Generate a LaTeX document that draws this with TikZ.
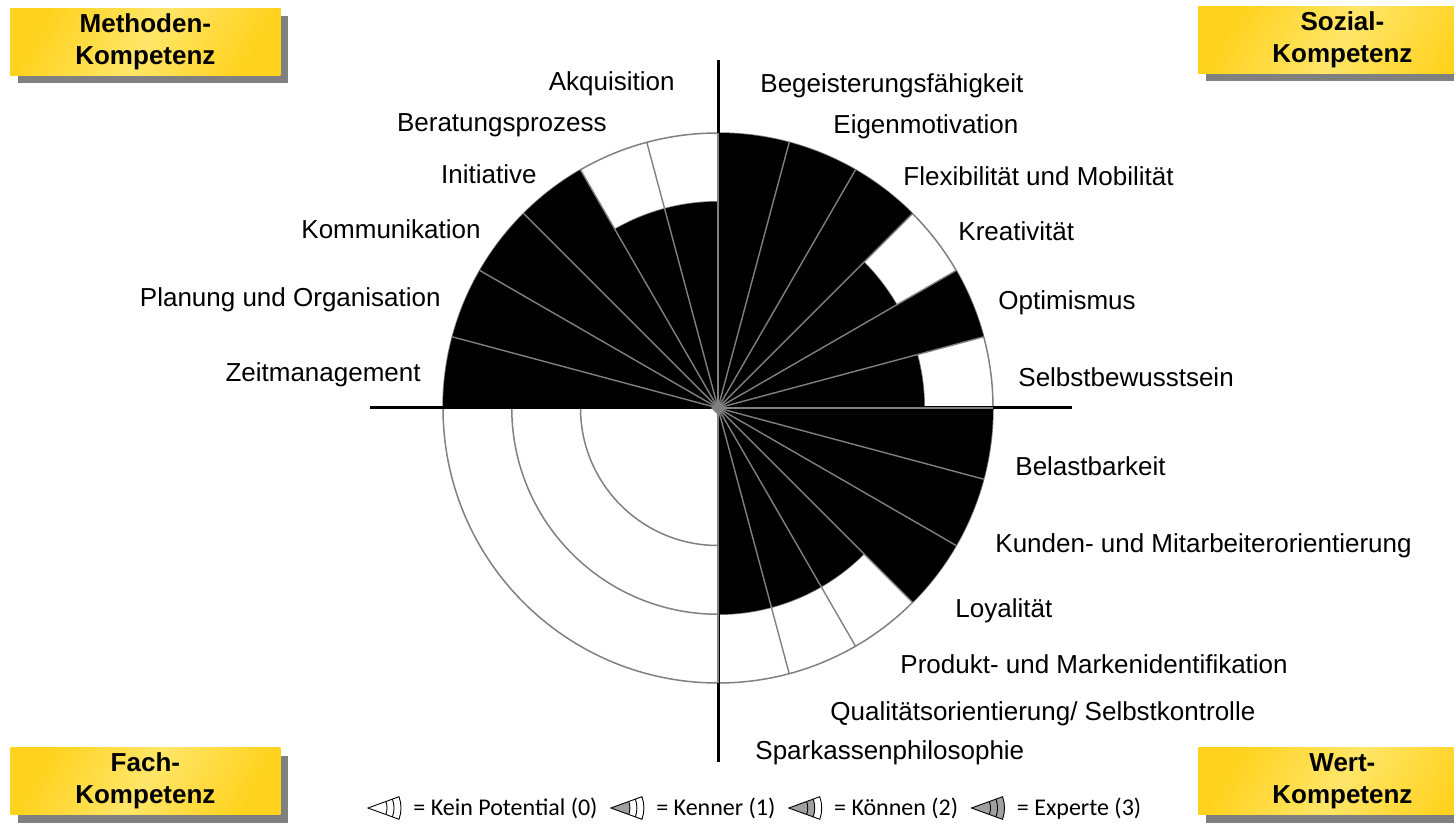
\documentclass[tikz,border=0pt]{standalone}
\usepackage{fontspec}
\setmainfont{Liberation Sans}
\newfontfamily\legfont{Carlito}
\usetikzlibrary{calc,shadows,positioning}
\definecolor{kgold}{RGB}{255,210,30}
\definecolor{klight}{RGB}{255,230,105}
\definecolor{spokegray}{RGB}{128,128,128}
\newcommand{\labfont}{\fontsize{13}{15}\selectfont}
\newcommand{\boxfont}{\bfseries\fontsize{13}{16}\selectfont}
\tikzset{levelicon/.pic={
	\ifdim #1pt>0pt
		\fill[spokegray!75] (0,0) -- (20:#1) arc[start angle=20,end angle=-20,radius=#1] -- cycle;
	\fi
	\draw[line width=0.45pt] (0,0) -- (20:33) arc[start angle=20,end angle=-20,radius=33] -- cycle;
	\draw[line width=0.45pt] (20:19) arc[start angle=20,end angle=-20,radius=19];
	\draw[line width=0.45pt] (20:26) arc[start angle=20,end angle=-20,radius=26];
}}
\begin{document}
\begin{tikzpicture}[x=0.5pt,y=0.5pt,
	ring/.style={spokegray,line width=0.75pt},
	spoke/.style={spokegray,line width=0.7pt},
	axis/.style={black,line width=1.5pt},
	lab/.style={font=\labfont,inner sep=0pt},
	kompbox/.style={font=\boxfont,align=center,inner sep=0pt,minimum width=135pt,minimum height=33.5pt,
		left color=kgold,right color=kgold,middle color=klight,shading angle=60,
		drop shadow={shadow xshift=4pt,shadow yshift=-4pt,fill=spokegray,opacity=1}},
	legtext/.style={font=\legfont\fontsize{12}{14}\selectfont,inner sep=0pt,anchor=base west}]
					\clip (0,0) rectangle (1454,825);
					\coordinate (M) at (718,417);
					%RINGS
					\foreach \r in {137.5,206.25,275}
						\draw[ring] (M) circle[radius=\r];
					%SECTORS (start angle / level)
					\foreach \a/\l in {165/3,150/3,135/3,120/3,105/2,90/2,75/3,60/3,45/3,30/2,15/3,0/2,-15/3,-30/3,-45/3,-60/2,-75/2,-90/2}
						\fill (M) -- ++(\a:{68.75*(\l+1)}) arc[start angle=\a,delta angle=15,radius={68.75*(\l+1)}] -- cycle;
					%AXES
					\coordinate (W) at ($(M)+(-348,0)$);
					\coordinate (E) at ($(M)+(354,0)$);
					\coordinate (N) at ($(M)+(0,348)$);
					\coordinate (S) at ($(M)+(0,-354)$);
					\draw[axis] (W) -- (E);
					\draw[axis] (N) -- (S);
					\foreach \a in {-90,-75,...,165}
						\draw[spoke] (M) -- ++(\a:275);
					\fill[spokegray] ($(M)+(-7,0)$) -- ++(7,7) -- ++(7,-7) -- ++(-7,-7) -- cycle;
					%LABELS
					\node[lab,anchor=base east] (akq) at (675,734) {Akquisition};
					\node[lab,anchor=base east] (ber) at (607,693) {Beratungsprozess};
					\node[lab,anchor=base east] (ini) at (537,641) {Initiative};
					\node[lab,anchor=base east] (kom) at (481,586) {Kommunikation};
					\node[lab,anchor=base east] (pla) at (441,518) {Planung und Organisation};
					\node[lab,anchor=base east] (zei) at (421,443) {Zeitmanagement};
					\node[lab,anchor=base west] (beg) at (760,732) {Begeisterungsfähigkeit};
					\node[lab,anchor=base west] (eig) at (833,691) {Eigenmotivation};
					\node[lab,anchor=base west] (fle) at (903,639) {Flexibilität und Mobilität};
					\node[lab,anchor=base west] (kre) at (958,584) {Kreativität};
					\node[lab,anchor=base west] (opt) at (998,515) {Optimismus};
					\node[lab,anchor=base west] (sel) at (1018,438) {Selbstbewusstsein};
					\node[lab,anchor=base west] (bel) at (1015,350) {Belastbarkeit};
					\node[lab,anchor=base west] (kun) at (995,273) {Kunden- und Mitarbeiterorientierung};
					\node[lab,anchor=base west] (loy) at (955,208) {Loyalität};
					\node[lab,anchor=base west] (pro) at (900,152) {Produkt- und Markenidentifikation};
					\node[lab,anchor=base west] (qua) at (830,105) {Qualitätsorientierung/ Selbstkontrolle};
					\node[lab,anchor=base west] (spa) at (755,66) {Sparkassenphilosophie};
					%COMPETENCE BOXES
					\node[kompbox,anchor=north west] (meth) at (10,817) {Methoden-\\Kompetenz};
					\node[kompbox,anchor=north west,minimum width=144pt] (soz) at (1198,819) {Sozial-\\Kompetenz};
					\node[kompbox,anchor=south west] (fach) at (10,10) {Fach-\\Kompetenz};
					\node[kompbox,anchor=south west,minimum width=144pt] (wert) at (1198,10) {Wert-\\Kompetenz};
					%LEGEND
					\coordinate (ic0) at (368,17);
					\pic at (ic0) {levelicon=0};
					\node[legtext] (lg0) at ($(ic0)+(45,-7)$) {= Kein Potential (0)};
					\coordinate (ic1) at ($(lg0.base east)+(13,7)$);
					\pic at (ic1) {levelicon=19};
					\node[legtext] (lg1) at ($(ic1)+(45,-7)$) {= Kenner (1)};
					\coordinate (ic2) at ($(lg1.base east)+(13,7)$);
					\pic at (ic2) {levelicon=26};
					\node[legtext] (lg2) at ($(ic2)+(45,-7)$) {= Können (2)};
					\coordinate (ic3) at ($(lg2.base east)+(13,7)$);
					\pic at (ic3) {levelicon=33};
					\node[legtext] (lg3) at ($(ic3)+(45,-7)$) {= Experte (3)};
\end{tikzpicture}
\end{document}
